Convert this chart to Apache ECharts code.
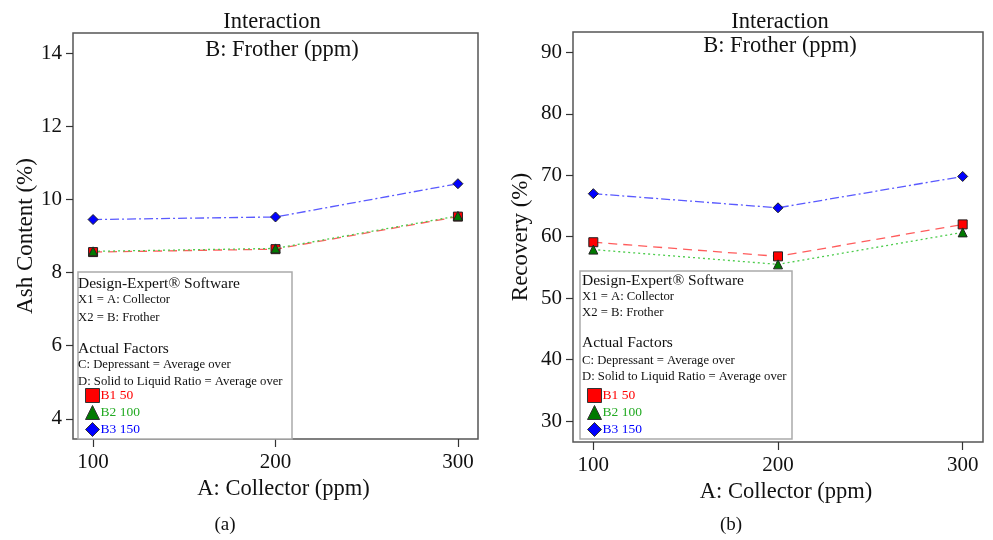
<!DOCTYPE html>
<html>
<head>
<meta charset="utf-8">
<script src="https://cdn.jsdelivr.net/npm/echarts@6/dist/echarts.min.js"></script>
<style>
html,body{margin:0;padding:0;background:#fff;}
#c{width:993px;height:540px;}
</style>
</head>
<body>
<div id="c"></div>
<script>
// ---- data ----
var collector = [100, 200, 300];
var seriesNames = ['B1 50', 'B2 100', 'B3 150'];
var ashB1 = [8.56, 8.64, 9.53];
var ashB2 = [8.58, 8.66, 9.55];
var ashB3 = [9.45, 9.52, 10.43];
var recB1 = [59.1, 56.8, 62.0];
var recB2 = [57.9, 55.5, 60.7];
var recB3 = [67.0, 64.7, 69.8];
var xTicks = [100, 200, 300];
var ashTicks = [4, 6, 8, 10, 12, 14];
var recTicks = [30, 40, 50, 60, 70, 80, 90];
var infoLines = [
  ['Design-Expert\u00ae Software', 15.5],
  ['X1 = A: Collector', 12.7],
  ['X2 = B: Frother', 12.7],
  ['Actual Factors', 15.5],
  ['C: Depressant = Average over', 12.7],
  ['D: Solid to Liquid Ratio = Average over', 12.7]
];

var SERIF = '"Liberation Serif","DejaVu Serif",serif';
function pairs(ys){ return collector.map(function(x,i){ return [x, ys[i]]; }); }

var styles = [
  {symbol:'rect', fill:'#ff0000', line:'#ff5c5c', type:[9,6], text:'#ff0000'},
  {symbol:'triangle', fill:'#007a00', line:'#4ccc4c', type:[2,3], text:'#22aa22'},
  {symbol:'diamond', fill:'#0000ff', line:'#5a5aff', type:[9,3,2,3], text:'#0000ff'}
];

function makeSeries(vals, axisIdx){
  return vals.map(function(v, i){
    var s = styles[i];
    return {
      type:'line', name:seriesNames[i], xAxisIndex:axisIdx, yAxisIndex:axisIdx,
      data:pairs(v), symbol:s.symbol, symbolSize: s.symbol==='diamond'?10:9,
      itemStyle:{color:s.fill, borderColor:'#222', borderWidth:1},
      lineStyle:{color:s.line, width:1.3, type:s.type},
      z: 2 + i
    };
  });
}

function xAxis(idx){
  return {
    type:'value', gridIndex:idx, min:89, max:311,
    splitLine:{show:false}, axisLine:{show:false},
    axisTick:{show:true, length:8, lineStyle:{color:'#333', width:1.2}, customValues:xTicks},
    axisLabel:{fontFamily:SERIF, fontSize:21, color:'#111', margin:13, customValues:xTicks},
    name:'A: Collector (ppm)', nameLocation:'middle', nameGap:38,
    nameTextStyle:{fontFamily:SERIF, fontSize:22.5, color:'#111', padding:[0,0,0,16]}
  };
}
function yAxis(idx, min, max, ticks, name, gap){
  return {
    type:'value', gridIndex:idx, min:min, max:max,
    splitLine:{show:false}, axisLine:{show:false},
    axisTick:{show:true, length:7, lineStyle:{color:'#333', width:1.2}, customValues:ticks},
    axisLabel:{fontFamily:SERIF, fontSize:21, color:'#111', margin:11, customValues:ticks},
    name:name, nameLocation:'middle', nameGap:gap,
    nameTextStyle:{fontFamily:SERIF, fontSize:23, color:'#111'}
  };
}

function legend(left, top){
  return {
    orient:'vertical', left:left, top:top, itemWidth:14, itemHeight:14, itemGap:2,
    selectedMode:false, z:20,
    textStyle:{fontFamily:SERIF, fontSize:13},
    data: seriesNames.map(function(n,i){
      var s = styles[i];
      return {name:n, icon:s.symbol, itemStyle:{color:s.fill, borderColor:'#333', borderWidth:1},
              textStyle:{color:s.text, fontFamily:SERIF, fontSize:13.5, padding:[0,0,0,-4]}};
    })
  };
}

function txt(t, x, y, size, align){
  return {type:'text', z:15, style:{text:t, x:x, y:y, font:size+'px '+SERIF, fill:'#111',
    textAlign:align||'left', align:align||'left', textVerticalAlign:'middle', verticalAlign:'middle'}};
}

var graphics = [
  txt('Interaction', 272, 22, 22.5, 'center'),
  txt('B: Frother (ppm)', 282, 50, 22.5, 'center'),
  txt('Interaction', 780, 22, 22.5, 'center'),
  txt('B: Frother (ppm)', 780, 46, 22.5, 'center'),
  txt('(a)', 225, 525, 19, 'center'),
  txt('(b)', 731, 525, 19, 'center'),
  {type:'rect', z:10, shape:{x:78, y:272, width:214, height:167}, style:{fill:'#fff', stroke:'#aaa', lineWidth:1.5}},
  {type:'rect', z:10, shape:{x:580, y:271, width:212, height:168}, style:{fill:'#fff', stroke:'#aaa', lineWidth:1.5}}
];
var leftYs = [284, 300, 318, 349, 365, 382];
var rightYs = [281, 297, 313, 343, 361, 377];
infoLines.forEach(function(l, i){
  graphics.push(txt(l[0], 78, leftYs[i], l[1]));
  graphics.push(txt(l[0], 582, rightYs[i], l[1]));
});

var option = {
  animation:false,
  backgroundColor:'#fff',
  grid:[
    {left:73, right:515, top:33, bottom:101, show:true, borderColor:'#555', borderWidth:1.5, backgroundColor:'transparent'},
    {left:573, right:10, top:32, bottom:98, show:true, borderColor:'#555', borderWidth:1.5, backgroundColor:'transparent'}
  ],
  xAxis:[xAxis(0), xAxis(1)],
  yAxis:[
    yAxis(0, 3.45, 14.55, ashTicks, 'Ash Content (%)', 33),
    yAxis(1, 26.6, 93.3, recTicks, 'Recovery (%)', 41)
  ],
  legend:[legend(80, 383), legend(582, 383)],
  graphic:graphics,
  series: makeSeries([ashB1, ashB2, ashB3], 0).concat(makeSeries([recB1, recB2, recB3], 1))
};

var chart = echarts.init(document.getElementById('c'), null, {renderer:'canvas'});
chart.setOption(option);
</script>
</body>
</html>
